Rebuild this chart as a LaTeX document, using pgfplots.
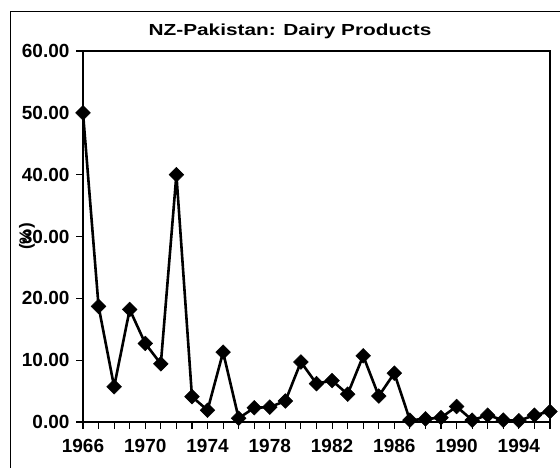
\documentclass[border=0pt]{standalone}
\usepackage{fontspec}
\setmainfont{Liberation Sans}
\usepackage{graphicx}
\usepackage{pgfplots}
\pgfplotsset{compat=1.18}
\begin{document}
\begin{tikzpicture}[x=1pt,y=1pt]
\useasboundingbox (0,0) rectangle (560,468);
\draw[line width=0.9pt] (10,0) -- (10,457) -- (560,457);
\begin{axis}[
  at={(83pt,46pt)}, anchor=south west, scale only axis,
  width=467pt, height=371pt,
  xmin=1966, xmax=1996, ymin=0, ymax=60,
  xtick={1966,1970,1974,1978,1982,1986,1990,1994},
  xticklabels={1966,1970,1974,1978,1982,1986,1990,1994},
  minor xtick={1967,1968,...,1996},
  ytick={0,10,20,30,40,50,60},
  yticklabel style={/pgf/number format/fixed,/pgf/number format/fixed zerofill,/pgf/number format/precision=2},
  /pgf/number format/assume math mode=true,
  tick label style={font=\fontsize{19}{21}\selectfont\bfseries, text=black},
  xticklabel shift=7pt,
  yticklabel shift=3pt,
  xtick pos=left, ytick pos=left,
  tick align=outside,
  major tick length=7pt, minor tick length=7pt,
  tick style={draw=black, line width=1.1pt},
  axis line style={line width=1.6pt},
  ylabel={(\%)},
  ylabel style={at={(axis description cs:-0.12,0.5)}, anchor=center, font=\fontsize{17}{18}\selectfont\bfseries},
  clip=false,
]
\addplot[black, line width=2.6pt, mark=square*, mark size=5.2pt, mark options={rotate=45, solid, line width=0.5pt}] coordinates {
(1966,50.0) (1967,18.7) (1968,5.7) (1969,18.2) (1970,12.7) (1971,9.4)
(1972,40.0) (1973,4.1) (1974,1.9) (1975,11.3) (1976,0.6) (1977,2.3)
(1978,2.4) (1979,3.4) (1980,9.7) (1981,6.2) (1982,6.7) (1983,4.5)
(1984,10.7) (1985,4.2) (1986,7.9) (1987,0.3) (1988,0.5) (1989,0.7)
(1990,2.5) (1991,0.3) (1992,1.1) (1993,0.3) (1994,0.2) (1995,1.1) (1996,1.7)
};
\end{axis}
\node[font=\bfseries\fontsize{16}{18}\selectfont] at (290,437) {\scalebox{1.3}[1]{NZ-Pakistan: Dairy Products}};
\end{tikzpicture}
\end{document}
